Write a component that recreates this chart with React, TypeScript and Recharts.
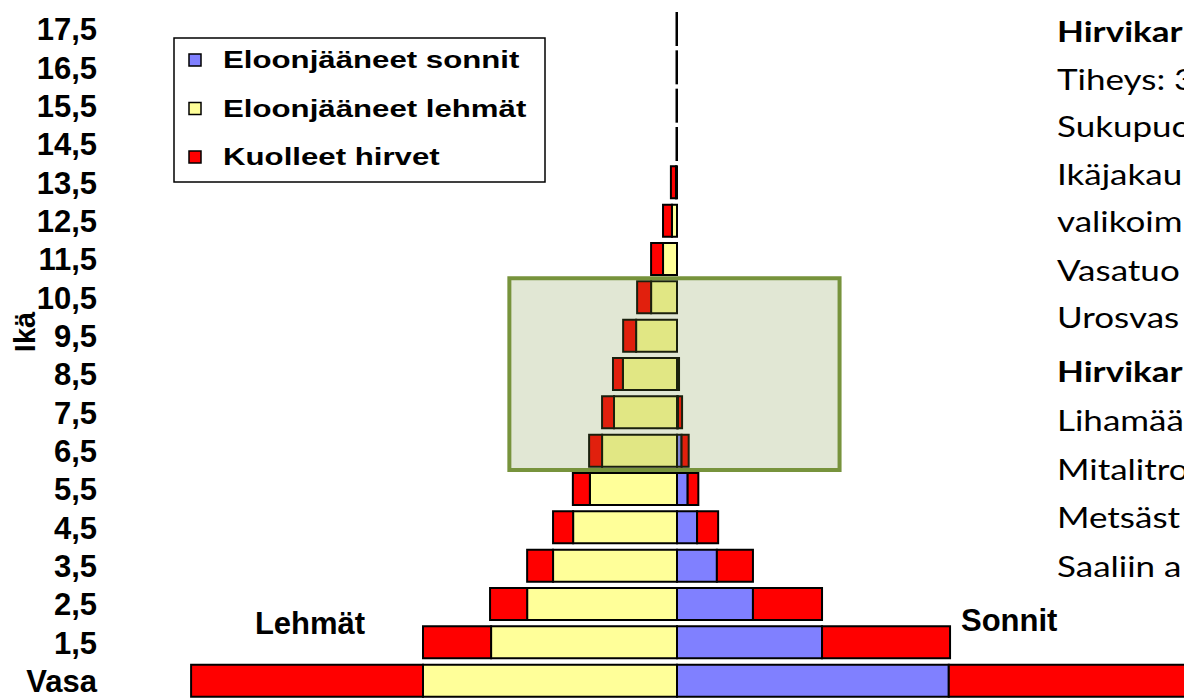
import React from 'react';
import { BarChart, Bar, XAxis, YAxis, ReferenceArea } from 'recharts';

// Age classes, bottom (Vasa) to top
const ageLabels = ['Vasa', '1,5', '2,5', '3,5', '4,5', '5,5', '6,5', '7,5', '8,5', '9,5', '10,5', '11,5', '12,5', '13,5', '14,5', '15,5', '16,5', '17,5'];
// Cows (left side)
const cowsAlive = [100, 73.2, 59, 48.8, 40.9, 34.3, 29.5, 24.8, 21.3, 16.1, 10.2, 5.5, 2.0, 0.4, 0.2, 0.2, 0.2, 0.2];
const cowsDead = [91.3, 26.8, 14.6, 10.2, 7.9, 6.7, 5.1, 4.7, 3.9, 5.1, 5.5, 4.7, 3.5, 2.0, 0, 0, 0, 0];
// Bulls (right side)
const bullsAlive = [107, 57.1, 29.9, 15.7, 7.9, 4.2, 1.8, 0.4, 0.2, 0, 0, 0, 0, 0, 0, 0, 0, 0];
const bullsDead = [100, 50.4, 27.2, 14.2, 8.3, 4.2, 2.8, 1.6, 0.6, 0, 0, 0, 0, 0, 0, 0, 0, 0];

const legendItems = [
  { label: 'Eloonjääneet sonnit', color: '#8080FF' },
  { label: 'Eloonjääneet lehmät', color: '#FFFF99' },
  { label: 'Kuolleet hirvet', color: '#FF0000' },
];

const highlightAges = ['10,5', '6,5'];
const highlightX = [-66, 64];

const infoBlock1 = [
  { text: 'Hirvikar', bold: true },
  { text: 'Tiheys: 3', bold: false },
  { text: 'Sukupuo', bold: false },
  { text: 'Ikäjakau', bold: false },
  { text: 'valikoim', bold: false },
  { text: 'Vasatuo', bold: false },
  { text: 'Urosvas', bold: false },
];
const infoBlock2 = [
  { text: 'Hirvikar', bold: true },
  { text: 'Lihamää', bold: false },
  { text: 'Mitalitro', bold: false },
  { text: 'Metsäst', bold: false },
  { text: 'Saaliin a', bold: false },
];

const data = ageLabels.map((age, i) => ({
  age,
  bullsAlive: bullsAlive[i],
  cowsAlive: -cowsAlive[i],
  bullsDead: bullsDead[i],
  cowsDead: -cowsDead[i],
}));

const ARIAL = '"Liberation Sans", Arial, sans-serif';
const CALIBRI = 'Lato, "Open Sans", sans-serif';

const block1Base = [42, 90, 137, 185, 232, 281, 328];
const block2Base = [382, 431, 480, 528, 577];

export default function App() {
  return (
    <div style={{ position: 'absolute', left: 0, top: 0, width: 1184, height: 698, overflow: 'hidden', background: '#fff' }}>
      <BarChart
        width={1312}
        height={702}
        data={data}
        layout="vertical"
        stackOffset="sign"
        barCategoryGap={3}
        margin={{ top: 10, right: 0, bottom: 2, left: 0 }}
      >
        <XAxis type="number" domain={[-200, 250]} hide allowDataOverflow />
        <YAxis
          type="category"
          dataKey="age"
          reversed
          width={169}
          axisLine={false}
          tickLine={false}
          tickSize={0}
          tickMargin={72}
          interval={0}
          tick={{ fontSize: 31, fontWeight: 700, fill: '#000', fontFamily: ARIAL }}
        />
        <Bar dataKey="bullsAlive" stackId="a" fill="#8080FF" stroke="#000" strokeWidth={2} isAnimationActive={false} />
        <Bar dataKey="cowsAlive" stackId="a" fill="#FFFF99" stroke="#000" strokeWidth={2} isAnimationActive={false} />
        <Bar dataKey="bullsDead" stackId="a" fill="#FF0000" stroke="#000" strokeWidth={2} isAnimationActive={false} />
        <Bar dataKey="cowsDead" stackId="a" fill="#FF0000" stroke="#000" strokeWidth={2} isAnimationActive={false} />
        <ReferenceArea
          x1={highlightX[0]}
          x2={highlightX[1]}
          y1={highlightAges[0]}
          y2={highlightAges[1]}
          fill="#77933C"
          fillOpacity={0.22}
          stroke="#77933C"
          strokeWidth={4}
          ifOverflow="visible"
          zIndex={350}
        />
      </BarChart>
      <svg width={1184} height={698} style={{ position: 'absolute', left: 0, top: 0, pointerEvents: 'none' }}>
        <text
          transform="translate(35,332) rotate(-90)"
          textAnchor="middle"
          fontFamily={ARIAL}
          fontWeight={700}
          fontSize={29}
          fill="#000"
        >
          Ikä
        </text>
        <text x={310} y={634} textAnchor="middle" fontFamily={ARIAL} fontWeight={700} fontSize={31} fill="#000">
          Lehmät
        </text>
        <text x={961} y={631} fontFamily={ARIAL} fontWeight={700} fontSize={31} fill="#000">
          Sonnit
        </text>
        <g>
          <rect x={174} y={38} width={371} height={144} fill="#fff" stroke="#000" strokeWidth={1.5} />
          {legendItems.map((it, i) => (
            <g key={it.label}>
              <rect x={189} y={54 + i * 48.5} width={12} height={12} fill={it.color} stroke="#000" strokeWidth={1.5} />
              <text
                transform={`translate(223,${68 + i * 48.5}) scale(1.3,1)`}
                fontFamily={ARIAL}
                fontWeight={700}
                fontSize={24}
                fill="#000"
              >
                {it.label}
              </text>
            </g>
          ))}
        </g>
        {infoBlock1.map((l, i) => (
          <text
            key={'b1' + i}
            transform={`translate(1057,${block1Base[i]}) scale(1.25,1)`}
            fontFamily={CALIBRI}
            fontWeight={l.bold ? 700 : 400}
            fontSize={28}
            fill="#000"
          >
            {l.text}
          </text>
        ))}
        {infoBlock2.map((l, i) => (
          <text
            key={'b2' + i}
            transform={`translate(1057,${block2Base[i]}) scale(1.25,1)`}
            fontFamily={CALIBRI}
            fontWeight={l.bold ? 700 : 400}
            fontSize={28}
            fill="#000"
          >
            {l.text}
          </text>
        ))}
      </svg>
    </div>
  );
}
